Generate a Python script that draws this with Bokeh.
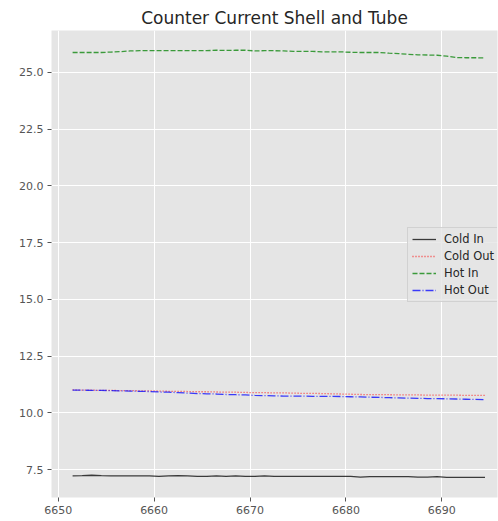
from bokeh.plotting import figure
from bokeh.models import FixedTicker, NumeralTickFormatter, Legend, LegendItem, Range1d
from bokeh.embed import file_html
from bokeh.resources import INLINE

# time axis (sample index)
x = [6651.5 + i for i in range(44)]

cold_in = [7.22, 7.23, 7.25, 7.23, 7.22, 7.22, 7.22, 7.22, 7.22, 7.20,
           7.22, 7.23, 7.22, 7.20, 7.20, 7.22, 7.20, 7.22, 7.20, 7.20,
           7.22, 7.20, 7.20, 7.20, 7.20, 7.20, 7.20, 7.20, 7.20, 7.20,
           7.17, 7.19, 7.19, 7.19, 7.19, 7.19, 7.17, 7.17, 7.19, 7.16,
           7.16, 7.16, 7.16, 7.16]

cold_out = [11.01, 11.00, 11.00, 10.99, 10.99, 10.98, 10.98, 10.97, 10.97, 10.96,
            10.95, 10.95, 10.94, 10.93, 10.93, 10.92, 10.91, 10.91, 10.90, 10.89,
            10.89, 10.88, 10.88, 10.87, 10.86, 10.86, 10.85, 10.84, 10.83, 10.82,
            10.81, 10.80, 10.80, 10.80, 10.79, 10.79, 10.79, 10.78, 10.78, 10.78,
            10.78, 10.77, 10.77, 10.77]

hot_in = [25.88, 25.88, 25.88, 25.88, 25.90, 25.92, 25.95, 25.96, 25.96, 25.96,
          25.96, 25.96, 25.96, 25.96, 25.96, 25.98, 25.97, 25.98, 25.98, 25.95,
          25.96, 25.96, 25.95, 25.93, 25.93, 25.93, 25.91, 25.91, 25.91, 25.89,
          25.88, 25.88, 25.88, 25.85, 25.83, 25.80, 25.78, 25.77, 25.76, 25.72,
          25.66, 25.65, 25.65, 25.64]

hot_out = [11.00, 11.00, 10.99, 10.99, 10.98, 10.97, 10.96, 10.95, 10.94, 10.92,
           10.91, 10.89, 10.87, 10.85, 10.84, 10.83, 10.81, 10.80, 10.79, 10.77,
           10.76, 10.75, 10.74, 10.74, 10.74, 10.73, 10.73, 10.73, 10.72, 10.71,
           10.70, 10.69, 10.68, 10.67, 10.66, 10.65, 10.64, 10.63, 10.63, 10.62,
           10.61, 10.60, 10.59, 10.58]

x_ticks = [6650, 6660, 6670, 6680, 6690]
y_ticks = [7.5, 10.0, 12.5, 15.0, 17.5, 20.0, 22.5, 25.0]

FONT = "DejaVu Sans"

p = figure(width=498, height=521, output_backend="svg", toolbar_location=None,
           x_range=Range1d(6649.3, 6695.8), y_range=Range1d(6.27, 26.85),
           min_border_left=51, min_border_right=1, min_border_top=30, min_border_bottom=24,
           title="Counter Current Shell and Tube")

p.background_fill_color = "#E5E5E5"
p.border_fill_color = "white"
p.outline_line_color = None

p.title.align = "center"
p.title.text_font = FONT
p.title.text_font_size = "17px"
p.title.text_font_style = "normal"
p.title.text_color = "#262626"
p.title.standoff = 6

for ax in (p.xaxis, p.yaxis):
    ax.axis_line_color = None
    ax.major_tick_line_color = "#555555"
    ax.major_tick_in = 0
    ax.major_tick_out = 4
    ax.minor_tick_line_color = None
    ax.major_label_text_font = FONT
    ax.major_label_text_font_size = "11px"
    ax.major_label_text_color = "#555555"
    ax.major_label_standoff = 4

p.xaxis.ticker = FixedTicker(ticks=x_ticks)
p.yaxis.ticker = FixedTicker(ticks=y_ticks)
p.yaxis.formatter = NumeralTickFormatter(format="0.0")

p.grid.grid_line_color = "white"
p.grid.grid_line_width = 1

r1 = p.line(x, cold_in, line_color="black", line_width=1.3, line_alpha=0.75)
r2 = p.line(x, cold_out, line_color="red", line_width=1.3, line_dash="1 2", line_alpha=0.75)
r3 = p.line(x, hot_in, line_color="green", line_width=1.3, line_dash="5 2", line_alpha=0.75)
r4 = p.line(x, hot_out, line_color="blue", line_width=1.3, line_dash="8 2 1 2", line_alpha=0.75)

legend = Legend(items=[LegendItem(label="Cold In", renderers=[r1]),
                       LegendItem(label="Cold Out", renderers=[r2]),
                       LegendItem(label="Hot In", renderers=[r3]),
                       LegendItem(label="Hot Out", renderers=[r4])],
                location=(356, 195))
legend.label_text_font = FONT
legend.label_text_font_size = "11.5px"
legend.label_text_color = "#262626"
legend.background_fill_color = "#E5E5E5"
legend.background_fill_alpha = 0.8
legend.border_line_color = "#CCCCCC"
legend.border_line_alpha = 0.8
legend.glyph_width = 24
legend.glyph_height = 14
legend.label_height = 14
legend.spacing = 3
legend.padding = 4
legend.margin = 0
legend.label_standoff = 8
p.add_layout(legend, "center")

open("out.html", "w").write(file_html(p, INLINE))
